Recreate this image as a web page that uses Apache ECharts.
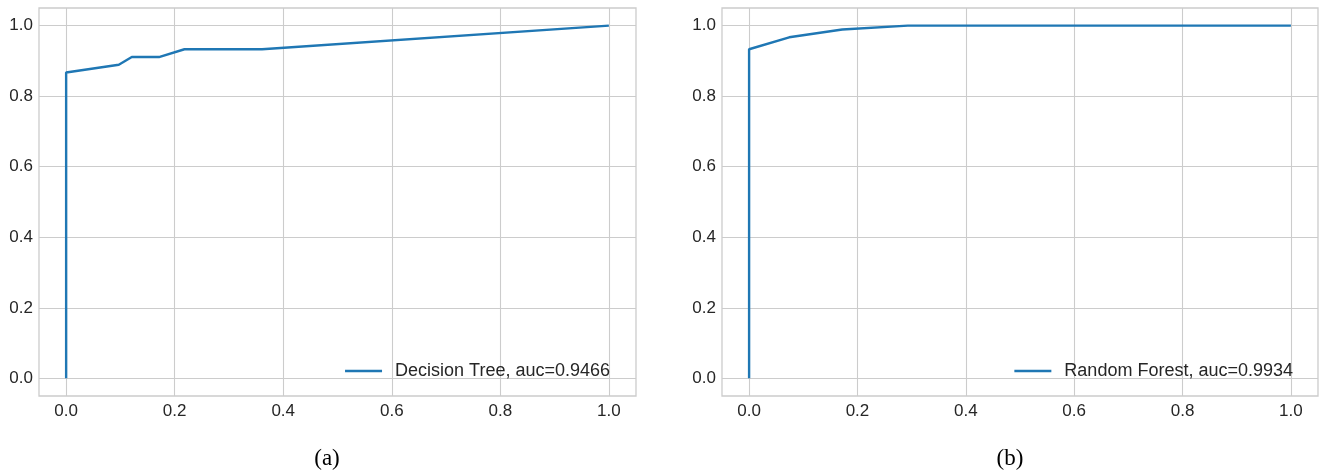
<!DOCTYPE html>
<html>
<head>
<meta charset="utf-8">
<script src="https://cdn.jsdelivr.net/npm/echarts@6/dist/echarts.min.js"></script>
<style>
html,body{margin:0;padding:0;background:#fff;}
#c{width:1327px;height:472px;}
</style>
</head>
<body>
<div id="c"></div>
<script>
// Data
const tickValues = [0, 0.2, 0.4, 0.6, 0.8, 1.0];
const dtName = 'Decision Tree, auc=0.9466';
const dtFpr = [0, 0, 0.097, 0.121, 0.171, 0.218, 0.361, 1.0];
const dtTpr = [0, 0.867, 0.889, 0.911, 0.911, 0.933, 0.933, 1.0];
const rfName = 'Random Forest, auc=0.9934';
const rfFpr = [0, 0, 0.074, 0.172, 0.293, 1.0];
const rfTpr = [0, 0.933, 0.967, 0.989, 1.0, 1.0];
const panelLabels = ['(a)', '(b)'];

const FONT = '"Liberation Sans", Arial, sans-serif';
const gridColor = '#cccccc';
const textColor = '#262626';
const blue = '#1f77b4';

function pairs(xs, ys) { return xs.map((x, i) => [x, ys[i]]); }

function axis(gridIndex, isX) {
  return {
    type: 'value', gridIndex: gridIndex, min: -0.05, max: 1.05,
    axisLine: { show: false },
    axisTick: { show: false, customValues: tickValues },
    axisLabel: {
      customValues: tickValues, color: textColor, fontSize: 17, fontFamily: FONT,
      margin: isX ? 7 : 6,
      formatter: v => v.toFixed(1)
    },
    splitLine: { show: true, lineStyle: { color: gridColor, width: 1.1 } }
  };
}

const grids = [
  { left: 39, right: 691, top: 8, height: 388, show: true, borderColor: gridColor, borderWidth: 1.3, backgroundColor: 'transparent' },
  { left: 722, right: 9, top: 8, height: 388, show: true, borderColor: gridColor, borderWidth: 1.3, backgroundColor: 'transparent' }
];

function legend(name, right) {
  return {
    data: [{ name: name, icon: 'rect' }],
    right: right, top: 362, padding: 0,
    itemWidth: 37, itemHeight: 2.5,
    textStyle: { color: textColor, fontSize: 18, fontFamily: FONT, padding: [0, 0, 0, 8] }
  };
}

const option = {
  animation: false,
  backgroundColor: '#ffffff',
  grid: grids,
  xAxis: [axis(0, true), axis(1, true)],
  yAxis: [axis(0, false), axis(1, false)],
  legend: [legend(dtName, 717), legend(rfName, 34)],
  title: [
    { text: panelLabels[0], left: 322, top: 454, textAlign: 'center', textVerticalAlign: 'middle',
      textStyle: { fontFamily: '"Liberation Serif", "Times New Roman", serif', fontSize: 23, fontWeight: 'normal', color: '#000' } },
    { text: panelLabels[1], left: 1005, top: 454, textAlign: 'center', textVerticalAlign: 'middle',
      textStyle: { fontFamily: '"Liberation Serif", "Times New Roman", serif', fontSize: 23, fontWeight: 'normal', color: '#000' } }
  ],
  series: [
    { name: dtName, type: 'line', xAxisIndex: 0, yAxisIndex: 0, data: pairs(dtFpr, dtTpr),
      showSymbol: false, symbol: 'none', color: blue, lineStyle: { color: blue, width: 2.4 } },
    { name: rfName, type: 'line', xAxisIndex: 1, yAxisIndex: 1, data: pairs(rfFpr, rfTpr),
      showSymbol: false, symbol: 'none', color: blue, lineStyle: { color: blue, width: 2.4 } }
  ]
};

const chart = echarts.init(document.getElementById('c'), null, { renderer: 'canvas' });
chart.setOption(option);
</script>
</body>
</html>
